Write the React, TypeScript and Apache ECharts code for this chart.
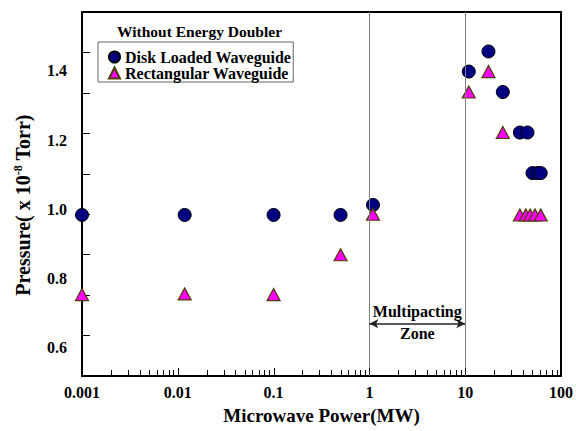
import React, { useEffect, useRef } from "react";
import * as echarts from "echarts";

const diskX = [0.001, 0.0118, 0.1, 0.5, 1.09, 10.9, 17.5, 24.7, 37.2, 44.7, 50.4, 56.7, 61.4];
const diskY = [0.984, 0.984, 0.984, 0.984, 1.013, 1.398, 1.456, 1.339, 1.222, 1.222, 1.105, 1.105, 1.105];
const rectX = [0.001, 0.0118, 0.1, 0.5, 1.09, 10.9, 17.5, 24.7, 37.2, 42.9, 47.6, 53.6, 61.4];
const rectY = [0.754, 0.756, 0.754, 0.869, 0.986, 1.339, 1.398, 1.222, 0.984, 0.984, 0.984, 0.984, 0.984];
const xMajor = [0.001, 0.01, 0.1, 1, 10, 100];
const yLabels = [0.6, 0.8, 1.0, 1.2, 1.4];
const yMin = 0.519;
const yMax = 1.57;
const zoneStart = 1;
const zoneEnd = 10;
const arrowY = 0.67;

const FONT = "'Liberation Serif', 'Times New Roman', serif";

export default function App() {
  const ref = useRef<HTMLDivElement>(null);
  useEffect(() => {
    if (!ref.current) return;
    const chart = echarts.init(ref.current, null, { renderer: "svg" });
    const tickData: number[][] = [];
    for (let d = 0; d < xMajor.length; d++) {
      tickData.push([xMajor[d], 1]);
      if (d < xMajor.length - 1) {
        for (let k = 2; k <= 9; k++) tickData.push([+(xMajor[d] * k).toPrecision(3), 0]);
      }
    }
    const yTicks: number[] = [];
    for (let k = 1; k <= 8; k++) yTicks.push(yMin + (k * (yMax - yMin)) / 9);

    const bold = { fontFamily: FONT, fontWeight: "bold" as const, color: "#000" };

    chart.setOption({
      animation: false,
      backgroundColor: "#fff",
      title: {
        text: "Without Energy Doubler",
        left: 117,
        top: 23,
        padding: 0,
        textStyle: { ...bold, fontSize: 15.5 },
      },
      legend: {
        orient: "vertical",
        left: 98,
        top: 42,
        padding: [7, 2, 1, 10],
        itemGap: 0,
        itemWidth: 11,
        itemHeight: 11,
        borderColor: "#666",
        borderWidth: 1,
        textStyle: { ...bold, fontSize: 16, lineHeight: 16 },
        data: [
          { name: "Disk Loaded Waveguide", icon: "circle" },
          { name: "Rectangular Waveguide", icon: "triangle" },
        ],
      },
      grid: {
        left: 82,
        right: 11,
        top: 12,
        bottom: 55,
        show: true,
        borderColor: "#000",
        borderWidth: 2,
        containLabel: false,
      },
      xAxis: {
        type: "log",
        logBase: 10,
        min: xMajor[0],
        max: xMajor[xMajor.length - 1],
        name: "Microwave Power(MW)",
        nameLocation: "middle",
        nameGap: 30,
        nameTextStyle: { ...bold, fontSize: 19 },
        axisLine: { onZero: false, lineStyle: { color: "#000", width: 2 } },
        axisTick: { show: false },
        axisLabel: {
          ...bold,
          fontSize: 16,
          margin: 8,
          formatter: (v: number) => String(v),
        },
        splitLine: { show: false },
      },
      yAxis: {
        type: "value",
        min: yMin,
        max: yMax,
        axisLine: { show: true, onZero: false, lineStyle: { color: "#000", width: 2 } },
        axisTick: { show: true, inside: true, length: 8, customValues: yTicks, lineStyle: { color: "#000" } },
        axisLabel: {
          ...bold,
          fontSize: 16,
          margin: 15,
          customValues: yLabels,
          formatter: (v: number) => v.toFixed(1),
        },
        splitLine: { show: false },
      },
      graphic: [
        {
          type: "text",
          x: 23,
          y: 205,
          rotation: Math.PI / 2,
          style: {
            text: "{a|Pressure( x 10}{s|-8}{a| Torr)}",
            align: "center",
            verticalAlign: "middle",
            rich: {
              a: { fontFamily: FONT, fontWeight: "bold", fontSize: 20, fill: "#000", lineHeight: 22 },
              s: { fontFamily: FONT, fontWeight: "bold", fontSize: 12, fill: "#000", verticalAlign: "top", lineHeight: 22 },
            },
          },
        },
      ],
      series: [
        {
          name: "xTicks",
          type: "custom",
          silent: true,
          clip: false,
          z: 10,
          data: tickData,
          renderItem: (params: any, api: any) => {
            const v = api.value(0);
            const major = api.value(1) === 1;
            const p = api.coord([v, yMin]);
            const x = Math.round(p[0]) + 0.5;
            const y0 = p[1] - 1;
            return {
              type: "line",
              shape: { x1: x, y1: y0, x2: x, y2: y0 - (major ? 7 : 5) },
              style: { stroke: "#000", lineWidth: 1 },
            };
          },
        },
        {
          name: "Disk Loaded Waveguide",
          type: "scatter",
          clip: false,
          symbol: "circle",
          symbolSize: 13,
          itemStyle: { color: "#000080", borderColor: "#000", borderWidth: 1, opacity: 1 },
          data: diskX.map((x, i) => [x, diskY[i]]),
          markLine: {
            silent: true,
            symbol: "none",
            lineStyle: { color: "#808080", width: 1, type: "solid" },
            label: { show: false },
            data: [{ xAxis: zoneStart }, { xAxis: zoneEnd }],
          },
          z: 2,
        },
        {
          name: "Rectangular Waveguide",
          type: "scatter",
          clip: false,
          symbol: "triangle",
          symbolSize: [13, 12],
          itemStyle: { color: "#ff00ff", borderColor: "#4a3c00", borderWidth: 1.2, opacity: 1 },
          data: rectX.map((x, i) => [x, rectY[i]]),
          markLine: {
            silent: true,
            symbol: ["arrow", "arrow"],
            symbolSize: [7, 9],
            lineStyle: { color: "#222", width: 1.5, type: "solid" },
            data: [
              [
                {
                  coord: [zoneStart, arrowY],
                  label: {
                    show: true,
                    position: "insideMiddleTop",
                    formatter: "Multipacting",
                    distance: 4,
                    ...bold,
                    fontSize: 16,
                  },
                },
                { coord: [zoneEnd, arrowY] },
              ],
              [
                {
                  coord: [zoneStart, arrowY],
                  symbol: "none",
                  lineStyle: { color: "rgba(0,0,0,0)", width: 0 },
                  label: {
                    show: true,
                    position: "insideMiddleBottom",
                    formatter: "Zone",
                    distance: 2,
                    ...bold,
                    fontSize: 16,
                  },
                },
                { coord: [zoneEnd, arrowY], symbol: "none" },
              ],
            ],
          },
          z: 3,
        },
      ],
    });
    return () => chart.dispose();
  }, []);
  return (
    <div
      ref={ref}
      style={{ position: "fixed", left: 0, top: 0, width: 576, height: 431, background: "#fff" }}
    />
  );
}
